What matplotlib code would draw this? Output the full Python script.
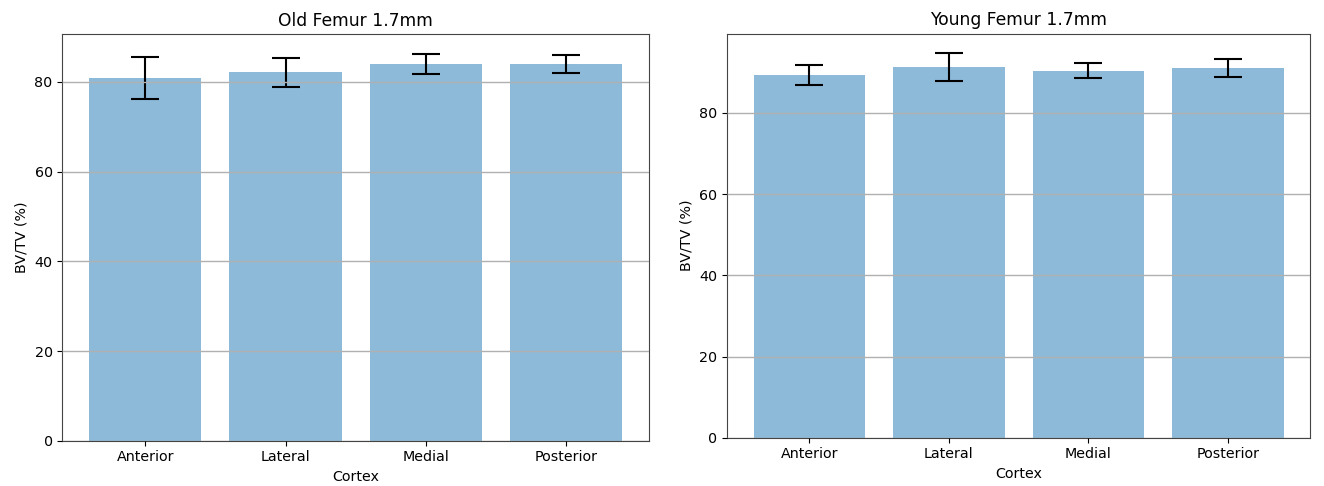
import matplotlib
matplotlib.use("Agg")
import matplotlib.pyplot as plt
import numpy as np

# Bone volume fraction per cortex region, 1.7 mm ROI
cortex = ["Anterior", "Lateral", "Medial", "Posterior"]

old_bvtv = [80.95, 82.1, 84.05, 84.05]
old_err = [4.7, 3.3, 2.25, 2.0]

young_bvtv = [89.35, 91.4, 90.45, 91.15]
young_err = [2.4, 3.4, 1.75, 2.2]

plt.rcParams["font.family"] = "DejaVu Sans"
plt.rcParams["font.size"] = 10.3

fig = plt.figure(figsize=(13.24, 4.86), dpi=100)
ax_old = fig.add_axes([0.0471, 0.0932, 0.4431, 0.8362])
ax_young = fig.add_axes([0.5491, 0.0994, 0.4406, 0.8313])


def draw_panel(ax, values, errors, title):
    x = np.arange(len(cortex))
    ax.bar(x, values, yerr=errors, align="center", alpha=0.5,
           color="#1f77b4", ecolor="black", capsize=10,
           error_kw=dict(elinewidth=1.5, capthick=1.5))
    ax.set_xticks(x)
    ax.set_xticklabels(cortex)
    ax.set_xlabel("Cortex")
    ax.set_ylabel("BV/TV (%)")
    ax.set_title(title)
    ax.yaxis.grid(True, color="#b0b0b0", linewidth=1.0)
    ax.set_axisbelow(False)
    for spine in ax.spines.values():
        spine.set_color("#444444")


draw_panel(ax_old, old_bvtv, old_err, "Old Femur 1.7mm")
draw_panel(ax_young, young_bvtv, young_err, "Young Femur 1.7mm")

fig.savefig("out.png", dpi=100)
